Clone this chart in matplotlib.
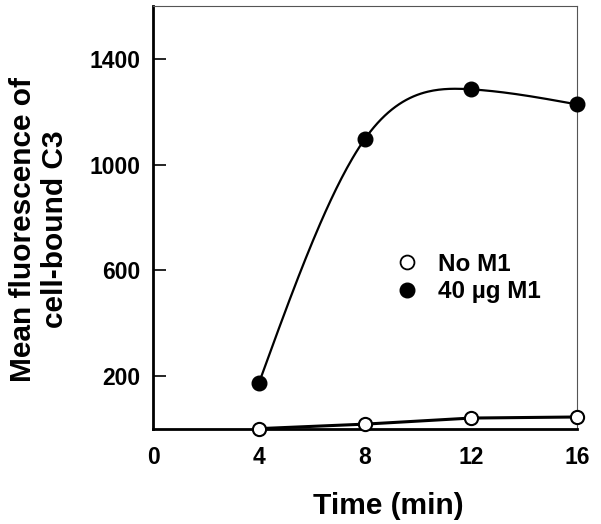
import numpy as np
import matplotlib.pyplot as plt
from matplotlib.lines import Line2D

plt.rcParams['font.family'] = ['Liberation Sans', 'DejaVu Sans']
plt.rcParams['font.weight'] = 'bold'

# --- Data ---
time_min = [4, 8, 12, 16]
no_m1 = [2, 19, 42, 46]
m1_40ug = [175, 1098, 1285, 1228]

x_ticks = [0, 4, 8, 12, 16]
y_ticks = [200, 600, 1000, 1400]


def natural_spline(x, y, n=60):
    # natural cubic spline through the points (smoothed line of the original)
    x = np.asarray(x, float)
    y = np.asarray(y, float)
    k = len(x)
    h = np.diff(x)
    A = np.zeros((k, k))
    b = np.zeros(k)
    A[0, 0] = A[-1, -1] = 1
    for i in range(1, k - 1):
        A[i, i - 1] = h[i - 1]
        A[i, i] = 2 * (h[i - 1] + h[i])
        A[i, i + 1] = h[i]
        b[i] = 6 * ((y[i + 1] - y[i]) / h[i] - (y[i] - y[i - 1]) / h[i - 1])
    m = np.linalg.solve(A, b)
    xs, ys = [], []
    for i in range(k - 1):
        t = np.linspace(x[i], x[i + 1], n)
        a = x[i + 1] - t
        c = t - x[i]
        s = (m[i] * a ** 3 + m[i + 1] * c ** 3) / (6 * h[i]) \
            + (y[i] / h[i] - m[i] * h[i] / 6) * a \
            + (y[i + 1] / h[i] - m[i + 1] * h[i] / 6) * c
        xs.append(t)
        ys.append(s)
    return np.concatenate(xs), np.concatenate(ys)


fig = plt.figure(figsize=(6.01, 5.24), dpi=100)
ax = fig.add_axes([0.2546, 0.181, 0.7054, 0.8075])

sx, sy = natural_spline(time_min, m1_40ug)
ax.plot(sx, sy, color='black', linewidth=1.6, zorder=2)
ax.plot(time_min, m1_40ug, 'o', color='black', markersize=10.5, zorder=3,
        clip_on=False)

ax.plot(time_min, no_m1, '-', color='black', linewidth=2.2, zorder=2)
ax.plot(time_min, no_m1, 'o', markerfacecolor='white', markeredgecolor='black',
        markeredgewidth=1.5, markersize=9.5, zorder=3, clip_on=False)

ax.set_xlim(0, 16)
ax.set_ylim(0, 1600)
ax.set_xticks(x_ticks)
ax.set_yticks(y_ticks)
ax.tick_params(axis='y', direction='in', length=9, width=1.2, labelsize=16.5, pad=9)
ax.tick_params(axis='x', length=0, labelsize=16.5, pad=12)

for side in ('left', 'bottom'):
    ax.spines[side].set_linewidth(2)
for side in ('top', 'right'):
    ax.spines[side].set_linewidth(0.8)
    ax.spines[side].set_color('#555555')

ax.set_xlabel('Time (min)', fontsize=21.5, fontweight='bold')
ax.xaxis.set_label_coords(0.554, -0.148)
ax.set_ylabel('Mean fluorescence of\ncell-bound C3', fontsize=21.5,
              fontweight='bold', linespacing=1.2)
ax.yaxis.set_label_coords(-0.198, 0.472)

handles = [
    Line2D([], [], marker='o', linestyle='none', markerfacecolor='white',
           markeredgecolor='black', markeredgewidth=1.3, markersize=10),
    Line2D([], [], marker='o', linestyle='none', color='black', markersize=10.5),
]
ax.legend(handles, ['No M1', '40 \u00b5g M1'], loc='upper left',
          bbox_to_anchor=(0.519, 0.469), frameon=False, fontsize=17.5,
          handletextpad=0.77, labelspacing=0.2, handlelength=1.0)

fig.savefig('out.png', dpi=100)
plt.close()
